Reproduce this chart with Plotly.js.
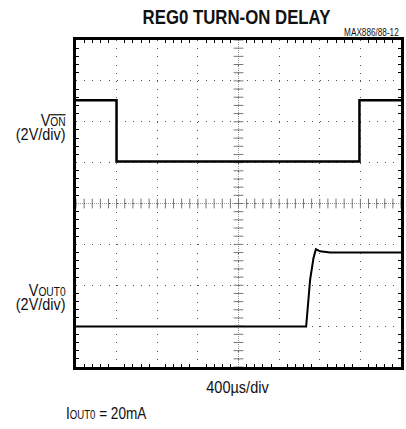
<!DOCTYPE html>
<html>
<head>
<meta charset="utf-8">
<script src="https://cdn.plot.ly/plotly-3.0.1.min.js"></script>
<style>html,body{margin:0;padding:0;background:#fff;}#chart{width:406px;height:429px;}</style>
</head>
<body>
<div id="chart"></div>
<script>
// time in microseconds (400 us/div), amplitude in volts (2 V/div)
const vonTime = [0, 399, 399, 2791, 2791, 3200];
const vonVolts = [13.05, 13.05, 10.06, 10.06, 13.05, 13.05];
const voutTime = [0, 2266, 2305, 2338, 2362, 2404, 2502, 3200];
const voutVolts = [1.98, 1.98, 4.26, 5.32, 5.76, 5.66, 5.60, 5.60];

const xRange = [0, 3200];
const yRange = [0, 16];
const xDiv = 400, yDiv = 2;

const FONT = '"Liberation Sans", Arial, sans-serif';

// center cross tick marks (0.2 div spacing)
const cxT = [], cxV = [], cyT = [], cyV = [];
for (let i = 0; i <= 40; i++) {
  cxT.push(xRange[0] + i * xDiv / 5); cxV.push(8);
  cyT.push(1600); cyV.push(yRange[0] + i * yDiv / 5);
}

const traces = [
  {x: cxT, y: cxV, mode: 'markers', hoverinfo: 'skip', showlegend: false,
   marker: {symbol: 'line-ns-open', size: 7, color: '#777', line: {color: '#777', width: 1}}},
  {x: cyT, y: cyV, mode: 'markers', hoverinfo: 'skip', showlegend: false,
   marker: {symbol: 'line-ew-open', size: 7, color: '#777', line: {color: '#777', width: 1}}},
  {x: vonTime, y: vonVolts, mode: 'lines', line: {color: '#000', width: 2.5}, showlegend: false},
  {x: voutTime, y: voutVolts, mode: 'lines', line: {color: '#000', width: 2}, showlegend: false}
];

const axisCommon = {
  showline: true, linecolor: '#000', linewidth: 3, mirror: 'allticks',
  ticks: '', showticklabels: false, zeroline: false,
  showgrid: true, gridcolor: '#555', gridwidth: 1,
  minor: {ticks: 'inside', ticklen: 3, tickcolor: '#000', tickwidth: 1, showgrid: false}
};

const big = s => '<span style="font-size:17px">' + s + '</span>';
const sub = (s, extra) => '<span style="font-size:12px' + (extra || '') + '">' + s + '</span>';

// [text, x(px), y center(px), anchor, size, bold, scaleX]
const labels = [
  ['REG0 TURN-ON DELAY', 236, 17, 'center', 21, true, 0.80],
  ['MAX886/88-12', 401, 32.5, 'right', 10, false, 0.82],
  [big('V') + sub('ON', ';text-decoration:overline') + '<br>' + big('(2V/div)'), 68, 128, 'right', 10.5, false, 0.85],
  [big('V') + sub('OUT0') + '<br>' + big('(2V/div)'), 68, 297.5, 'right', 10.5, false, 0.85],
  ['400µs/div', 237.5, 387, 'center', 16.5, false, 0.88],
  ['I' + sub('OUT0') + ' = 20mA', 64, 413, 'left', 17, false, 0.80]
];

const annotations = labels.map(l => ({
  text: l[5] ? '<b>' + l[0] + '</b>' : l[0],
  xref: 'paper', yref: 'paper', x: (l[1] - 76) / 325, y: (367 - l[2]) / 327,
  xanchor: l[3], yanchor: 'middle', align: l[3], showarrow: false,
  font: {size: l[4], family: FONT, color: '#111'}
}));

const layout = {
  width: 406, height: 429,
  margin: {l: 76, r: 5, t: 40, b: 62},
  paper_bgcolor: '#fff', plot_bgcolor: '#fff',
  font: {family: FONT, color: '#111'},
  xaxis: Object.assign({}, axisCommon, {range: xRange, dtick: xDiv, tick0: 0,
    griddash: '1px,7.175px', minor: Object.assign({}, axisCommon.minor, {dtick: xDiv / 5, tick0: 0})}),
  yaxis: Object.assign({}, axisCommon, {range: yRange, dtick: yDiv, tick0: 0,
    griddash: '1px,7.125px', minor: Object.assign({}, axisCommon.minor, {dtick: yDiv / 5, tick0: 0})}),
  shapes: [
    {type: 'line', xref: 'x', yref: 'paper', x0: 1600, x1: 1600, y0: 0, y1: 1, line: {color: '#999', width: 1, dash: '1px,1px'}, layer: 'below'},
    {type: 'line', xref: 'paper', yref: 'y', x0: 0, x1: 1, y0: 8, y1: 8, line: {color: '#999', width: 1, dash: '1px,1px'}, layer: 'below'}
  ],
  annotations: annotations
};

Plotly.newPlot('chart', traces, layout, {staticPlot: true, displayModeBar: false}).then(gd => {
  // emulate the narrow (condensed) typeface of the original
  const texts = gd.querySelectorAll('.annotation-text');
  texts.forEach((t, i) => {
    const l = labels[i];
    if (!l) return;
    t.style.transformBox = 'fill-box';
    t.style.transformOrigin = l[3] === 'center' ? 'center' : l[3];
    t.style.transform = 'scaleX(' + l[6] + ')';
  });
});
</script>
</body>
</html>
